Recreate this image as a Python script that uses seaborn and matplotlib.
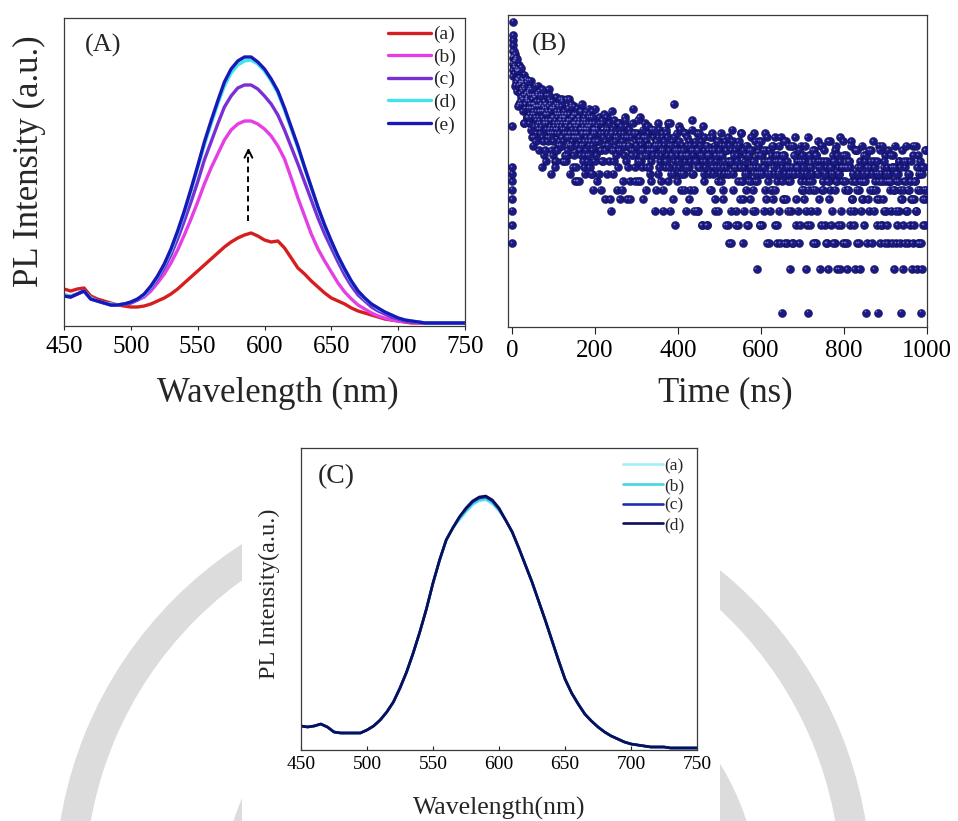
import numpy as np
import pandas as pd
import matplotlib
matplotlib.use("Agg")
import matplotlib.pyplot as plt
from matplotlib.patches import Wedge, Rectangle
from matplotlib.ticker import NullLocator
from matplotlib.transforms import offset_copy
import seaborn as sns

# ---------------- data ----------------
# (A) PL spectra, 450-750 nm every 5 nm
wavelength = np.arange(450, 751, 5)
labels_a = ["(a)", "(b)", "(c)", "(d)", "(e)"]
pl_a = [37, 35, 37, 38, 30, 27, 25, 23, 21, 20,
        19, 19, 20, 22, 25, 28, 32, 37, 43, 49,
        55, 61, 67, 73, 79, 84, 88, 91, 93, 90,
        86, 84, 85, 78, 68, 58, 52, 45, 39, 33,
        28, 25, 22, 18, 15, 13, 11, 9, 7, 6,
        5, 4, 3, 3, 3, 3, 3, 3, 3, 3, 3]
pl_b = [31, 30, 32, 35, 28, 25, 23, 22, 21, 22,
        23, 26, 29, 35, 43, 52, 63, 76, 91, 107,
        124, 142, 158, 172, 186, 196, 202, 205, 205, 202,
        197, 190, 180, 167, 148, 128, 110, 92, 77, 65,
        54, 43, 34, 27, 21, 17, 13, 10, 8, 6,
        5, 4, 4, 3, 3, 3, 3, 3, 3, 3, 3]
pl_c = [30, 29, 32, 35, 27, 25, 23, 21, 21, 22,
        23, 26, 31, 38, 47, 58, 71, 87, 105, 124,
        144, 166, 184, 202, 219, 230, 238, 241, 241, 237,
        230, 222, 211, 196, 179, 162, 144, 126, 108, 92,
        78, 64, 51, 40, 31, 25, 19, 15, 12, 9,
        7, 5, 4, 4, 3, 3, 3, 3, 3, 3, 3]
pl_d = [31, 30, 32, 35, 28, 25, 23, 22, 21, 22,
        24, 27, 31, 39, 49, 61, 75, 93, 113, 135,
        158, 181, 202, 222, 240, 253, 261, 265, 266, 262,
        255, 245, 233, 216, 197, 178, 158, 138, 118, 100,
        84, 69, 56, 44, 35, 27, 22, 17, 14, 11,
        8, 6, 5, 4, 3, 3, 3, 3, 3, 3, 3]
pl_e = [30, 29, 32, 35, 27, 25, 23, 21, 21, 22,
        24, 27, 32, 40, 50, 62, 77, 95, 115, 137,
        160, 184, 205, 225, 244, 257, 265, 269, 269, 264,
        257, 247, 235, 218, 199, 180, 159, 139, 119, 101,
        85, 70, 57, 45, 35, 28, 22, 18, 14, 11,
        8, 6, 5, 4, 3, 3, 3, 3, 3, 3, 3]
colors_a = ["#d61e1e", "#e43fe4", "#7a2fd4", "#3fe4ef", "#1818b8"]

# (B) decay counts: rising edge, then 1 ns channels from 4 ns to 999 ns,
# plus interleaved half-ns channels over the first 200 ns
rise_time = [0.0, 0.1, 0.2, 0.3, 0.4, 0.5, 0.6, 0.7, 0.9,
             1.2, 1.4, 1.6, 1.8, 2.0, 2.2, 2.4, 2.6, 3.0]
rise_counts = [3, 4, 5, 6, 7, 8, 9, 10, 19,
               42, 46, 51, 56, 62, 68, 74, 80, 99]
# even channels (4, 6, ... 998 ns)
counts_even_0 = [57, 44, 55, 56, 40, 40, 45, 27, 37, 38, 29, 40, 31, 43, 27, 32,
                 22, 29, 32, 23, 35, 25, 16, 29, 27, 23, 30, 17, 26, 36, 20, 24,
                 18, 27, 10, 31, 12, 25, 20, 23, 27, 16, 34, 18, 28, 9, 25, 12]
counts_even_100 = [17, 26, 11, 30, 17, 22, 14, 20, 23, 16, 26, 18, 11, 22, 20, 17, 23,
                   12, 21, 29, 16, 19, 14, 22, 17, 26, 8, 20, 16, 19, 22, 13, 18, 15,
                   24, 17, 21, 10, 18, 20, 18, 12, 20, 23, 15, 16, 20, 9, 17, 18]
counts_even_200 = [18, 17, 8, 19, 15, 22, 13, 7, 11, 20, 17, 14, 6, 15, 22, 14, 18,
                   11, 16, 5, 24, 17, 9, 19, 13, 16, 17, 7, 13, 20, 6, 17, 14, 7, 16,
                   12, 22, 14, 19, 6, 16, 14, 8, 17, 13, 12, 25, 17, 10, 15]
counts_even_300 = [12, 17, 8, 15, 22, 11, 14, 10, 16, 13, 20, 7, 15, 12, 14, 17, 9,
                   13, 11, 18, 13, 16, 5, 14, 15, 14, 9, 16, 18, 11, 12, 16, 7, 13,
                   14, 10, 17, 12, 20, 10, 14, 5, 12, 15, 9, 27, 11, 4, 14, 13]
counts_even_400 = [12, 19, 10, 13, 7, 12, 14, 9, 17, 11, 5, 14, 12, 10, 15, 7, 13,
                   21, 9, 12, 5, 14, 11, 17, 5, 13, 10, 12, 15, 4, 11, 9, 16, 11, 14,
                   4, 12, 13, 12, 7, 13, 16, 10, 10, 14, 5, 11, 12, 8, 15]
counts_even_500 = [12, 9, 12, 14, 7, 10, 9, 15, 10, 13, 4, 11, 3, 11, 3, 13, 15, 9,
                   10, 13, 5, 10, 12, 4, 14, 10, 17, 8, 3, 6, 10, 12, 7, 14, 9, 4,
                   12, 10, 8, 13, 5, 11, 17, 8, 10, 2, 12, 9, 15, 4]
counts_even_600 = [9, 12, 4, 10, 11, 7, 13, 3, 16, 8, 11, 5, 9, 12, 7, 14, 9, 4, 11,
                   3, 8, 12, 5, 11, 16, 1, 10, 6, 12, 3, 15, 3, 11, 8, 10, 2, 5, 9,
                   3, 14, 9, 12, 4, 10, 11, 10, 3, 11, 14, 8]
counts_even_700 = [7, 9, 6, 11, 8, 2, 4, 1, 8, 10, 12, 5, 9, 7, 13, 3, 12, 3, 9, 11,
                   10, 2, 11, 14, 7, 8, 11, 4, 9, 10, 3, 2, 8, 15, 7, 10, 5, 9, 11,
                   3, 13, 8, 2, 10, 9, 2, 11, 4, 10, 15]
counts_even_800 = [12, 7, 3, 10, 2, 7, 11, 4, 10, 15, 6, 9, 5, 2, 8, 13, 3, 10, 7, 2,
                   11, 5, 8, 6, 12, 8, 11, 1, 9, 10, 9, 5, 10, 13, 7, 7, 11, 2, 8, 9,
                   6, 1, 8, 14, 3, 9, 4, 8, 10, 5]
counts_even_900 = [12, 8, 10, 3, 8, 9, 8, 5, 10, 12, 7, 2, 10, 3, 8, 9, 5, 11, 7, 1,
                   6, 2, 4, 8, 10, 5, 11, 7, 3, 9, 8, 6, 2, 3, 14, 6, 8, 5, 2, 7, 12,
                   3, 9, 1, 2, 10, 4, 7, 6, 13]
# odd channels (5, 7, ... 999 ns)
counts_odd_0 = [50, 59, 48, 33, 47, 39, 50, 32, 38, 27, 33, 39, 20, 34, 27, 38,
                28, 33, 20, 28, 39, 22, 29, 25, 16, 30, 26, 21, 31, 18, 24, 33,
                20, 27, 16, 24, 21, 28, 11, 25, 20, 26, 17, 29, 21, 17, 22, 15]
counts_odd_100 = [20, 25, 11, 23, 18, 27, 19, 24, 14, 21, 29, 15, 22, 18, 11, 23, 20,
                  16, 25, 14, 19, 27, 15, 22, 12, 20, 17, 23, 8, 20, 16, 21, 13, 24,
                  17, 14, 18, 12, 23, 17, 15, 22, 17, 10, 19, 16, 24, 13, 18, 11]
counts_odd_200 = [25, 12, 18, 15, 9, 20, 17, 13, 21, 11, 16, 23, 13, 18, 9, 17, 14,
                  20, 6, 17, 13, 18, 11, 21, 15, 12, 16, 10, 20, 14, 13, 19, 15, 8,
                  17, 14, 21, 11, 16, 10, 14, 18, 6, 16, 12, 20, 13, 17, 8, 14]
counts_odd_300 = [14, 21, 11, 16, 8, 15, 13, 18, 6, 16, 12, 16, 10, 19, 13, 10, 14,
                  8, 18, 13, 12, 18, 14, 7, 15, 12, 20, 10, 14, 8, 13, 17, 5, 15, 11,
                  18, 11, 16, 8, 13, 20, 9, 14, 12, 6, 16, 13, 10, 17, 8]
counts_odd_400 = [11, 15, 9, 18, 12, 9, 13, 7, 17, 12, 10, 16, 12, 6, 14, 11, 18,
                  9, 13, 7, 11, 15, 5, 13, 10, 17, 10, 14, 4, 12, 19, 8, 13, 10, 4,
                  14, 12, 9, 16, 7, 11, 17, 9, 13, 6, 12, 10, 15, 5, 13]
counts_odd_500 = [10, 17, 8, 12, 6, 11, 14, 4, 13, 9, 16, 9, 14, 5, 11, 18, 7, 12,
                  10, 4, 14, 11, 8, 15, 6, 10, 17, 8, 13, 5, 11, 9, 14, 4, 12, 8, 13,
                  6, 16, 10, 7, 11, 5, 15, 9, 8, 14, 10, 4, 12]
counts_odd_600 = [15, 9, 13, 5, 10, 17, 6, 11, 9, 3, 13, 11, 7, 14, 6, 10, 16, 7,
                  12, 4, 11, 9, 14, 3, 11, 8, 12, 6, 15, 9, 6, 10, 5, 14, 9, 8, 14,
                  10, 3, 12, 9, 16, 6, 10, 5, 9, 13, 4, 11, 7]
counts_odd_700 = [12, 10, 7, 14, 5, 9, 16, 7, 12, 4, 10, 8, 13, 3, 11, 7, 12, 5, 15,
                  9, 6, 10, 4, 14, 8, 7, 13, 9, 3, 11, 8, 15, 6, 10, 4, 9, 12, 3, 11,
                  7, 14, 8, 12, 4, 9, 16, 5, 10, 8, 3]
counts_odd_800 = [10, 8, 12, 3, 10, 7, 11, 5, 14, 8, 6, 9, 4, 13, 8, 7, 13, 9, 3,
                  10, 8, 14, 6, 9, 4, 8, 12, 3, 10, 6, 13, 7, 11, 3, 9, 15, 5, 10, 7,
                  4, 11, 9, 6, 13, 4, 8, 14, 6, 11, 3]
counts_odd_900 = [5, 9, 4, 13, 8, 7, 12, 8, 3, 10, 7, 14, 5, 9, 4, 8, 11, 3, 10, 6,
                  13, 7, 11, 3, 8, 14, 5, 9, 7, 4, 11, 8, 6, 12, 4, 8, 14, 5, 10, 3,
                  9, 7, 11, 3, 9, 6, 10, 4, 13, 7]
# half-ns channels (4.5, 5.5, ... 199.5 ns)
counts_half_0 = [62, 48, 53, 36, 53, 46, 38, 55, 40, 45, 26, 46, 36, 41, 46, 28,
                 37, 30, 48, 34, 38, 24, 35, 29, 38, 20, 36, 31, 25, 40, 29, 32,
                 22, 30, 39, 25, 22, 31, 34, 25, 27, 18, 31, 34, 23, 27, 14, 31,
                 24, 27, 31, 22, 26, 15, 28, 24, 19, 32, 22, 26, 13, 28, 21, 26,
                 31, 17, 24, 19, 34, 22, 26, 15, 24, 20, 28, 13, 27, 23, 18, 31,
                 21, 24, 15, 23, 31, 18, 16, 24, 27, 19, 21, 13, 25, 28, 18, 22]
counts_half_100 = [22, 19, 25, 10, 21, 18, 27, 24, 13, 20, 18, 26, 23, 15, 17, 29,
                   21, 14, 22, 19, 28, 16, 20, 23, 11, 24, 17, 21, 12, 22, 19, 29,
                   16, 20, 13, 25, 21, 17, 23, 9, 21, 17, 26, 14, 18, 22, 10, 20,
                   16, 23, 23, 16, 19, 10, 21, 18, 14, 25, 17, 20, 8, 22, 16, 20,
                   24, 12, 18, 14, 27, 17, 20, 11, 19, 15, 22, 9, 21, 17, 13, 24,
                   16, 19, 11, 18, 25, 14, 12, 19, 22, 15, 16, 9, 20, 22, 14, 17,
                   7, 20, 15, 18]

# (C) PL spectra, 450-750 nm every 5 nm
labels_c = ["(a)", "(b)", "(c)", "(d)"]
pl_c_d = [24, 23, 24, 26, 23, 18, 17, 17, 17, 17,
          20, 24, 30, 38, 48, 62, 78, 97, 118, 141,
          167, 190, 210, 222, 233, 242, 249, 253, 254, 250,
          242, 230, 218, 202, 185, 168, 149, 130, 110, 90,
          71, 57, 46, 36, 29, 23, 18, 14, 11, 8,
          6, 5, 4, 3, 3, 3, 2, 2, 2, 2, 2]
pl_c_c = pl_c_d[:24] + [233, 241, 248, 252, 253, 249, 241] + pl_c_d[31:]
pl_c_b = pl_c_d[:24] + [231, 239, 246, 250, 251, 247, 240] + pl_c_d[31:]
pl_c_a = pl_c_d[:24] + [230, 238, 245, 249, 250, 246, 239] + pl_c_d[31:]
colors_c = ["#a6eef5", "#3fd8e6", "#1f2fb0", "#0b0f5a"]

# ---------------- style ----------------
sns.set_theme(style="ticks")
plt.rcParams["font.family"] = ["Liberation Serif", "DejaVu Serif"]
plt.rcParams["axes.edgecolor"] = "#3a3a3a"
plt.rcParams["axes.linewidth"] = 0.9

fig = plt.figure(figsize=(9.58, 8.21), dpi=100, facecolor="white")

# background emblem rings (pixel coordinates)
bg = fig.add_axes([0, 0, 1, 1], zorder=-10)
bg.set_xlim(0, 958)
bg.set_ylim(821, 0)
bg.axis("off")
bg.add_patch(Wedge((463, 887), 408, 0, 360, width=30, color="#dcdcdc", lw=0))
bg.add_patch(Wedge((490, 905), 270, 0, 360, width=30, color="#dcdcdc", lw=0))
bg.add_patch(Rectangle((242, 437), 478, 384, color="white", lw=0))


def style_axis(ax, fs, length, direction):
    ax.tick_params(axis="x", direction=direction, length=length, width=0.8,
                   labelsize=fs, pad=4, colors="#222222", labelcolor="black")
    ax.yaxis.set_major_locator(NullLocator())
    ax.yaxis.set_minor_locator(NullLocator())
    for s in ax.spines.values():
        s.set_visible(True)


# ---------------- (A) ----------------
axA = fig.add_axes([64 / 958, 1 - 326 / 821, 401 / 958, 308 / 821])
dfA = pd.DataFrame({
    "wavelength": np.tile(wavelength, 5),
    "intensity": np.concatenate([pl_a, pl_b, pl_c, pl_d, pl_e]),
    "sample": np.repeat(labels_a, len(wavelength)),
})
sns.lineplot(data=dfA, x="wavelength", y="intensity", hue="sample",
             hue_order=labels_a, palette=dict(zip(labels_a, colors_a)),
             linewidth=2.4, legend=False, ax=axA)
axA.set_xlim(450, 750)
axA.set_ylim(0, 308)
axA.set_xticks(range(450, 751, 50))
style_axis(axA, 18, 3, "out")
axA.set_xlabel("Wavelength (nm)", fontsize=25)
axA.set_ylabel("PL Intensity (a.u.)", fontsize=25)
axA.xaxis.label.set_va("center")
axA.yaxis.label.set_va("center")
axA.xaxis.set_label_coords(0.532, -0.2175)
axA.yaxis.set_label_coords(-0.085, 0.534)
axA.text(0.052, 0.912, "(A)", transform=axA.transAxes, fontsize=19,
         va="center", ha="left")
axA.legend(axA.lines[:5], labels_a, loc="upper left",
           bbox_to_anchor=(0.808, 0.975), frameon=False, fontsize=14,
           handlelength=2.2, handletextpad=0.1, labelspacing=0.25,
           borderpad=0, borderaxespad=0)
# dashed arrow marking the rising emission
axA.plot([588, 588], [105, 172], ls=(0, (3, 2)), color="black", lw=1.4)
axA.annotate("", xy=(588, 181), xytext=(588, 170),
             arrowprops=dict(arrowstyle="->", lw=1.4, color="black",
                             mutation_scale=14))

# ---------------- (B) ----------------
axB = fig.add_axes([507.7 / 958, 1 - 327 / 821, 419 / 958, 312 / 821])
decay_time = np.concatenate([rise_time, np.arange(4, 1000, 2),
                             np.arange(5, 1000, 2), np.arange(4.5, 200, 1.0)])
decay_counts = np.concatenate([
    rise_counts,
    counts_even_0, counts_even_100, counts_even_200, counts_even_300,
    counts_even_400, counts_even_500, counts_even_600, counts_even_700,
    counts_even_800, counts_even_900,
    counts_odd_0, counts_odd_100, counts_odd_200, counts_odd_300,
    counts_odd_400, counts_odd_500, counts_odd_600, counts_odd_700,
    counts_odd_800, counts_odd_900,
    counts_half_0, counts_half_100])
dfB = pd.DataFrame({"time": decay_time, "counts": decay_counts})
sns.scatterplot(data=dfB, x="time", y="counts", s=34, color="#1a1a82",
                edgecolor="#0b0b48", linewidth=0.3, ax=axB, zorder=3)
# small glints give the markers a rounded look
glint = offset_copy(axB.transData, fig=fig, x=-1.0, y=1.0, units="points")
axB.scatter(dfB["time"], dfB["counts"], s=1.5, color="#7474cc",
            linewidths=0, transform=glint, zorder=4)
axB.set_yscale("log")
axB.set_ylim(0.8, 110)
axB.set_xlim(-10.4, 1000)
axB.set_xticks(range(0, 1001, 200))
style_axis(axB, 18, 5, "out")
axB.set_xlabel("Time (ns)", fontsize=25)
axB.set_ylabel("")
axB.xaxis.label.set_va("center")
axB.xaxis.set_label_coords(0.519, -0.2115)
axB.text(0.057, 0.907, "(B)", transform=axB.transAxes, fontsize=19,
         va="center", ha="left")

# ---------------- (C) ----------------
axC = fig.add_axes([301 / 958, 1 - 750 / 821, 396 / 958, 302 / 821])
dfC = pd.DataFrame({
    "wavelength": np.tile(wavelength, 4),
    "intensity": np.concatenate([pl_c_a, pl_c_b, pl_c_c, pl_c_d]),
    "sample": np.repeat(labels_c, len(wavelength)),
})
sns.lineplot(data=dfC, x="wavelength", y="intensity", hue="sample",
             hue_order=labels_c, palette=dict(zip(labels_c, colors_c)),
             linewidth=1.9, legend=False, ax=axC)
axC.set_xlim(450, 750)
axC.set_ylim(0, 302)
axC.set_xticks(range(450, 751, 50))
style_axis(axC, 14, 3, "in")
axC.set_xlabel("Wavelength(nm)", fontsize=18.5)
axC.set_ylabel("PL Intensity(a.u.)", fontsize=17.5)
axC.xaxis.label.set_va("center")
axC.yaxis.label.set_va("center")
axC.xaxis.set_label_coords(0.5, -0.195)
axC.yaxis.set_label_coords(-0.081, 0.518)
axC.text(0.043, 0.906, "(C)", transform=axC.transAxes, fontsize=20,
         va="center", ha="left")
axC.legend(axC.lines[:4], labels_c, loc="upper left",
           bbox_to_anchor=(0.813, 0.966), frameon=False, fontsize=12.5,
           handlelength=2.3, handletextpad=0.1, labelspacing=0.2,
           borderpad=0, borderaxespad=0)

fig.savefig("out.png", dpi=100, facecolor="white")
